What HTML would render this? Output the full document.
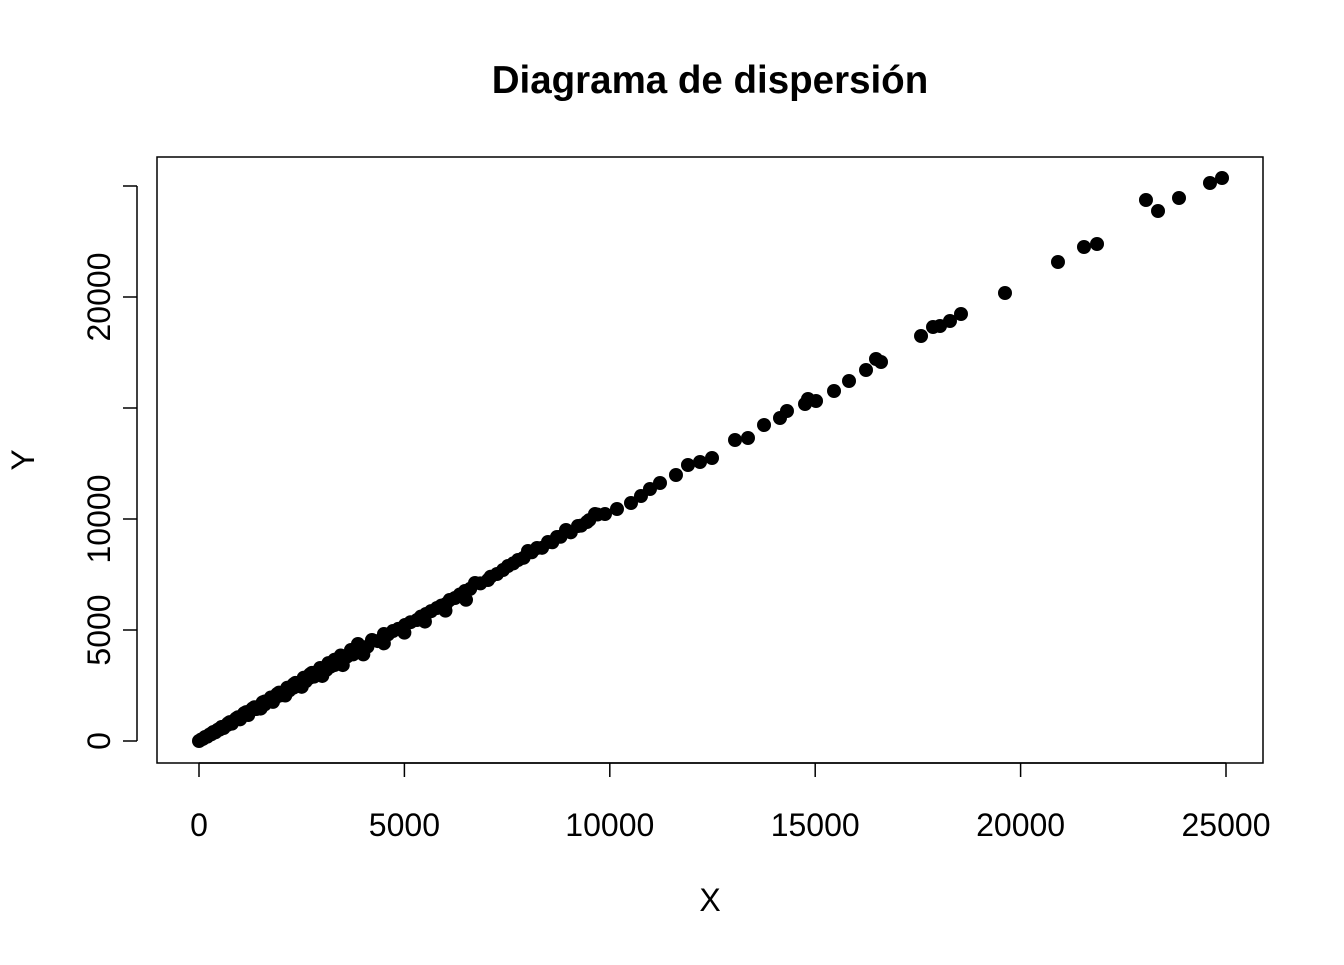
<!DOCTYPE html>
<html><head><meta charset="utf-8"><style>
body{margin:0;background:#fff}
svg text{font-family:"Liberation Sans",Arial,sans-serif;fill:#000}
</style></head><body>
<svg id="chart" width="1344" height="960" viewBox="0 0 1344 960">
<text x="710" y="93" font-size="38.5" font-weight="bold" text-anchor="middle">Diagrama de dispersión</text>
<rect x="157" y="157" width="1106" height="606" fill="none" stroke="#000" stroke-width="1.5"/>
<g id="xaxis"></g>
<g id="yaxis"></g>
<g id="pts"></g>
<text x="710" y="911" font-size="32" text-anchor="middle">X</text>
<text x="0" y="0" font-size="32" text-anchor="middle" transform="translate(34,460) rotate(-90)">Y</text>
</svg>
<script>
const xTicks=[0,5000,10000,15000,20000,25000];
const yTicks=[0,5000,10000,15000,20000,25000];
const yTickLabels=["0","5000","10000","","20000",""];
const xs=[0,50,100,150,200,250,300,350,400,450,500,550,600,700,800,900,1000,1100,1200,1300,1400,1500,1600,1700,1800,1900,2000,2100,2200,2300,2400,2500,2600,2700,2800,2900,3000,3100,3200,3300,3400,3500,3600,3750,3950,4100,4350,4600,4850,5150,5400,5650,5900,6100,6350,6600,6850,7100,7400,7650,7900,8100,8350,8600,8800,9050,9300,9500,9700,
200,400,600,800,1000,1200,1500,1800,2100,2500,3000,3500,4000,4500,5000,5500,6000,6500,300,500,700,900,1100,1300,1600,1900,2300,2700,3300,3870,4503,
150,350,550,750,950,1150,1350,1550,1750,1950,2150,2350,2550,2750,2950,3150,3450,3700,
4211,4723,5015,5307,5526,5794,6013,6232,6475,6719,7035,7254,7522,7766,8009,8228,8496,8715,8934,9226,9445,9640,9883,10175,10516,10759,10978,11222,11611,11903,12196,12488,13048,13364,13754,14143,14313,14752,14825,15020,15458,15823,16237,16480,16602,17576,17868,18038,18281,18549,19620,20910,21543,21860,23052,23345,23856,24610,24903];
const ys=[0,60,100,170,200,280,300,400,410,500,510,620,610,730,820,1000,1030,1250,1220,1450,1440,1600,1650,1800,1850,2000,2060,2200,2280,2400,2480,2620,2690,2850,2900,3010,3150,3200,3350,3420,3550,3650,3800,3900,4150,4250,4500,4800,5050,5350,5600,5850,6100,6350,6600,6850,7100,7400,7700,8000,8250,8500,8700,8950,9200,9400,9700,9950,10200,
195,390,585,780,975,1170,1460,1760,2050,2440,2930,3420,3900,4400,4880,5380,5870,6360,330,550,780,1000,1230,1450,1780,2110,2550,3000,3660,4369,4820,
180,400,630,850,1070,1300,1520,1740,1960,2180,2400,2620,2850,3070,3290,3510,3850,4100,
4550,4955,5225,5450,5721,5991,6171,6441,6757,7117,7252,7523,7883,8153,8559,8694,8964,9189,9505,9685,9865,10225,10225,10450,10721,11036,11351,11622,11982,12432,12568,12748,13559,13649,14234,14550,14865,15180,15405,15315,15766,16216,16712,17207,17072,18243,18649,18694,18919,19234,20180,21577,22252,22387,24369,23874,24459,25135,25360];
const ns="http://www.w3.org/2000/svg";
const sx=v=>199+v*1027/25000, sy=v=>741-v*444/20000;
function mk(t,a,p){const e=document.createElementNS(ns,t);for(const k in a)e.setAttribute(k,a[k]);p.appendChild(e);return e;}
const gx=document.getElementById('xaxis'),gy=document.getElementById('yaxis'),gp=document.getElementById('pts');
mk('line',{x1:sx(0),x2:sx(25000),y1:763,y2:763,stroke:'#000','stroke-width':1.5},gx);
xTicks.forEach(v=>{
 const l=mk('line',{x1:sx(v),x2:sx(v),y1:763,y2:777,stroke:'#000','stroke-width':1.5},gx);
 
 
 const t=mk('text',{x:sx(v),y:836,'font-size':32,'text-anchor':'middle'},gx);t.textContent=v;
 
 
});
mk('line',{x1:137,x2:137,y1:sy(0),y2:sy(25000),stroke:'#000','stroke-width':1.5},gy);
yTicks.forEach((v,i)=>{
 const l=mk('line',{x1:123,x2:137,y1:sy(v),y2:sy(v),stroke:'#000','stroke-width':1.5},gy);
 
 
 if(yTickLabels[i]){const t=mk('text',{'font-size':32,'text-anchor':'middle',transform:`translate(110,${sy(v)}) rotate(-90)`},gy);t.textContent=yTickLabels[i];
 
 }
});
xs.forEach((x,i)=>{
 const c=mk('circle',{cx:sx(x),cy:sy(ys[i]),r:7,fill:'#000'},gp);
 
 
});
</script>
</body></html>
